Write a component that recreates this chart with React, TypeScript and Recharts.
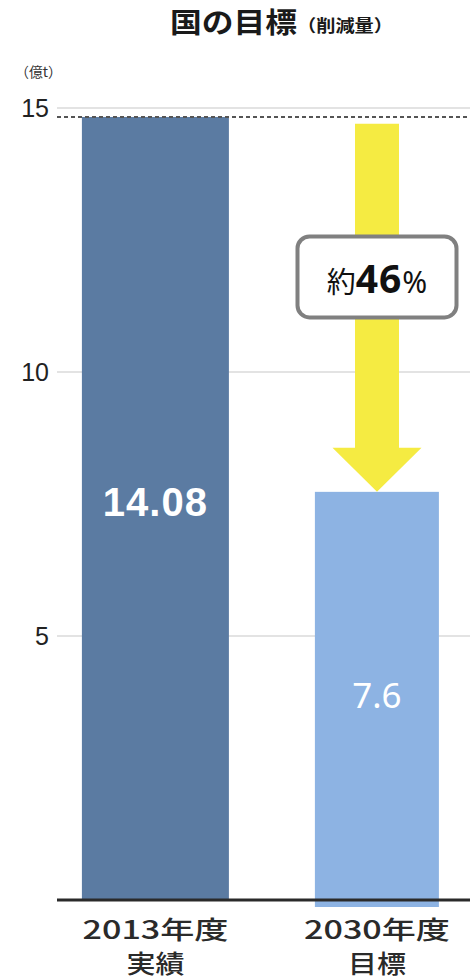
import {
  Bar,
  BarChart,
  CartesianGrid,
  LabelList,
  ReferenceDot,
  ReferenceLine,
  XAxis,
  YAxis,
} from "recharts";

// categories
const years = ["2013年度", "2030年度"];
const kinds = ["実績", "目標"];
// bar heights as drawn in the picture (億t)
const barHeights = [14.83, 7.73];
// printed values on the bars
const valueLabels = ["14.08", "7.6"];
const yTicks = [5, 10, 15];
// arrow from the 2013 level down to the 2030 bar
const arrowFrom = 14.7;
const reductionText = ["約", "46", "%"];
const reductionAt = 11.8;

const data = years.map((year, i) => ({
  year,
  kind: kinds[i],
  value: barHeights[i],
  label: valueLabels[i],
}));

const BAR_WIDTHS = [147, 124];
const BAR_FILLS = ["#5b7ba2", "#8db3e3"];
const BAR_EXTEND = [0, 7];
const CJK = "'Noto Sans CJK JP', 'Noto Sans', sans-serif";
const YELLOW = "#f5eb42";

function BarShape(props: any) {
  const { x, y, width, height, payload } = props;
  const i = years.indexOf(payload?.year);
  const w = BAR_WIDTHS[i] ?? width;
  const cx = x + width / 2;
  return <rect x={cx - w / 2} y={y} width={w} height={height + (BAR_EXTEND[i] ?? 0)} fill={BAR_FILLS[i]} />;
}

function ValueLabel(props: any) {
  const { x, y, width, height, value, index } = props;
  const cx = x + width / 2;
  const cy = y + height / 2;
  if (index === 0) {
    return (
      <text x={cx} y={cy + 8} textAnchor="middle" fill="#fff" fontSize={40} fontWeight={700}
        fontFamily="'Liberation Sans', Arial, sans-serif" letterSpacing={1}>
        {value}
      </text>
    );
  }
  return (
    <text x={cx} y={cy + 12} textAnchor="middle" fill="#fff" fontSize={35} fontFamily="'Noto Sans', sans-serif">
      {value}
    </text>
  );
}

function YearTick(props: any) {
  const { x, payload } = props;
  const i = years.indexOf(payload.value);
  // two lines below the baseline
  return (
    <g>
      <text x={x} y={939} textAnchor="middle" fill="#2a2a2a" fontSize={25} fontWeight={500}
        fontFamily={CJK} textLength={146} lengthAdjust="spacingAndGlyphs">
        {payload.value}
      </text>
      <text x={x} y={973} textAnchor="middle" fill="#2a2a2a" fontSize={25} fontWeight={500}
        fontFamily={CJK} textLength={58} lengthAdjust="spacingAndGlyphs">
        {kinds[i]}
      </text>
    </g>
  );
}

function ArrowShape(props: any) {
  const { x1, y1, x2, y2 } = props;
  const cx = (x1 + x2) / 2;
  const top = Math.min(y1, y2);
  const tip = Math.max(y1, y2);
  const headTop = tip - 44;
  const pts = [
    [cx - 22, top],
    [cx + 22, top],
    [cx + 22, headTop],
    [cx + 44.5, headTop],
    [cx, tip],
    [cx - 44.5, headTop],
    [cx - 22, headTop],
  ]
    .map((p) => p.join(","))
    .join(" ");
  return <polygon points={pts} fill={YELLOW} />;
}

function ReductionBox(props: any) {
  const { cx, cy } = props;
  if (cx == null || cy == null) return null;
  return (
    <g>
      <rect x={cx - 79.5} y={cy - 40.5} width={159} height={81} rx={12} fill="#fff" stroke="#808080" strokeWidth={4} />
      <text x={cx} y={cy + 16} textAnchor="middle" fill="#111" fontFamily={CJK}>
        <tspan fontSize={29}>{reductionText[0]}</tspan>
        <tspan fontSize={39} fontWeight={700} fontFamily="'Noto Sans', sans-serif" letterSpacing={1}>
          {reductionText[1]}
        </tspan>
        <tspan fontSize={30} fontFamily="'Noto Sans', sans-serif">{reductionText[2]}</tspan>
      </text>
    </g>
  );
}

export default function App() {
  return (
    <div style={{ position: "absolute", left: 0, top: 0, width: 470, height: 980, background: "#fff", overflow: "hidden" }}>
      <svg width={470} height={100} style={{ position: "absolute", left: 0, top: 0 }}>
        <text x={170} y={33} fontSize={28} fontWeight={700} fill="#1a1a1a" fontFamily={CJK}
          textLength={127} lengthAdjust="spacingAndGlyphs">
          国の目標
        </text>
        <text x={297} y={32} fontSize={17} fontWeight={700} fill="#1a1a1a" fontFamily={CJK}
          textLength={96} lengthAdjust="spacingAndGlyphs">
          （削減量）
        </text>
        <text x={15} y={77} fontSize={14} fill="#333" fontFamily={CJK} textLength={47} lengthAdjust="spacingAndGlyphs">
          （億t）
        </text>
      </svg>
      <div style={{ position: "absolute", left: 0, top: 0 }}>
        <BarChart width={470} height={980} data={data} margin={{ top: 108, right: 0, bottom: 0, left: 0 }}>
          <CartesianGrid vertical={false} stroke="#dadada" strokeWidth={1.5} />
          <XAxis
            dataKey="year"
            height={80}
            padding={{ left: -12.25, right: -17.75 }}
            axisLine={{ stroke: "#2a2a2a", strokeWidth: 3 }}
            tickLine={false}
            tick={<YearTick />}
            interval={0}
          />
          <YAxis
            type="number"
            domain={[0, 15]}
            ticks={yTicks}
            width={57}
            axisLine={false}
            tickLine={false}
            tick={{ fontSize: 25, fill: "#222", fontFamily: "'Liberation Sans', Arial, sans-serif" }}
          />
          <Bar dataKey="value" shape={<BarShape />} isAnimationActive={false}>
            <LabelList dataKey="label" content={<ValueLabel />} />
          </Bar>
          <ReferenceLine y={barHeights[0]} stroke="#555" strokeWidth={2} strokeDasharray="4 3" />
          <ReferenceLine
            segment={[
              { x: years[1], y: arrowFrom },
              { x: years[1], y: barHeights[1] },
            ]}
            shape={<ArrowShape />}
          />
          <ReferenceDot x={years[1]} y={reductionAt} r={0} shape={<ReductionBox />} />
        </BarChart>
      </div>
    </div>
  );
}
